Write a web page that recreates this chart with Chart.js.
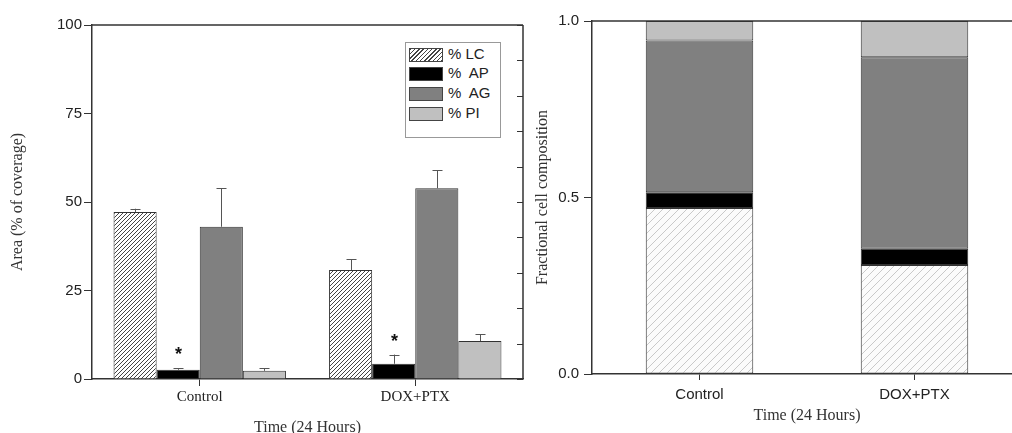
<!DOCTYPE html>
<html>
<head>
<meta charset="utf-8">
<script src="https://cdn.jsdelivr.net/npm/chart.js@4/dist/chart.umd.min.js"></script>
<style>
  html, body { margin: 0; padding: 0; background: #fff; }
  body { width: 1012px; height: 433px; overflow: hidden; position: relative; }
  #areaWrap { position: absolute; left: 0; top: 0; width: 540px; height: 440px; }
  #fracWrap { position: absolute; left: 520px; top: 0; width: 520px; height: 440px; }
  #legend {
    position: absolute; left: 405px; top: 42px; width: 94px; height: 94px;
    border: 1px solid #999; background: #fff;
    font-family: "Liberation Sans", Arial, sans-serif; font-size: 15px; color: #222;
  }
  .row { position: absolute; left: 3px; height: 14px; white-space: pre; }
  .sw { position: absolute; left: 0; top: 0; width: 32px; height: 12px; border: 1px solid #444; }
  .lab { position: absolute; left: 39px; top: -3px; line-height: 18px; }
</style>
</head>
<body>
<div id="areaWrap"><canvas id="areaChart" width="540" height="440"></canvas></div>
<div id="fracWrap"><canvas id="fracChart" width="520" height="440"></canvas></div>
<div id="legend"></div>

<script>
// Données
const categories = ['Control', 'DOX+PTX'];
const seriesNames = ['% LC', '%  AP', '%  AG', '% PI'];

// Graphique de gauche : aire (% de couverture) et barres d'erreur
const areaLC = [47.2, 30.8];
const areaAP = [2.6, 4.3];
const areaAG = [43.0, 53.9];
const areaPI = [2.3, 10.7];
const errLC = [0.9, 3.0];
const errAP = [0.4, 2.6];
const errAG = [10.9, 5.1];
const errPI = [0.7, 2.0];
const starAP = ['*', '*'];

// Graphique de droite : composition fractionnelle
const fracLC = [0.470, 0.309];
const fracAP = [0.045, 0.046];
const fracAG = [0.430, 0.542];
const fracPI = [0.055, 0.103];

// Graduations
const areaTicks = [0, 25, 50, 75, 100];
const areaFrameTicks = [0, 10, 20, 30, 40, 50, 60, 70, 80, 90, 100];
const fracTicks = [0, 0.5, 1.0];

const SANS = '"Liberation Sans", Arial, sans-serif';
const SERIF = '"Liberation Serif", "Times New Roman", serif';

// Motif hachuré
function hatch(color, bg, size, lw) {
    const c = document.createElement('canvas');
    c.width = c.height = size;
    const g = c.getContext('2d');
    g.fillStyle = bg;
    g.fillRect(0, 0, size, size);
    g.strokeStyle = color;
    g.lineWidth = lw;
    g.beginPath();
    g.moveTo(0, size); g.lineTo(size, 0);
    g.moveTo(-1, 1); g.lineTo(1, -1);
    g.moveTo(size - 1, size + 1); g.lineTo(size + 1, size - 1);
    g.stroke();
    return g.createPattern(c, 'repeat');
}

const fills = [hatch('#444', '#fff', 4, 1), '#000000', '#808080', '#c0c0c0'];
const fracFills = [hatch('#bdbdbd', '#fbfbfb', 8, 0.8), '#000000', '#808080', '#c0c0c0'];

// Légende HTML
const legendSwatches = [
    'repeating-linear-gradient(-45deg, #444 0 1px, #fff 1px 3px)',
    '#000', '#808080', '#c0c0c0'
];
const legendRows = [5, 24, 44, 64];
const legend = document.getElementById('legend');
seriesNames.forEach((name, i) => {
    const row = document.createElement('div');
    row.className = 'row';
    row.style.top = legendRows[i] + 'px';
    row.innerHTML = `<div class="sw" style="background:${legendSwatches[i]}"></div><div class="lab">${name}</div>`;
    legend.appendChild(row);
});

// Cadre (haut + droite) avec graduations internes
const framePlugin = {
    id: 'frame',
    afterDraw(chart, args, opts) {
        const { ctx, chartArea } = chart;
        const y = chart.scales.y;
        ctx.save();
        ctx.strokeStyle = '#333';
        ctx.lineWidth = 1.5;
        ctx.beginPath();
        ctx.moveTo(chartArea.left, chartArea.top);
        ctx.lineTo(opts.toEdge ? chart.width : chartArea.right, chartArea.top);
        if (opts.right) {
            ctx.moveTo(chartArea.right, chartArea.top);
            ctx.lineTo(chartArea.right, chartArea.bottom);
        }
        ctx.stroke();
        if (opts.rightTicks) {
            ctx.lineWidth = 1;
            ctx.beginPath();
            opts.rightTicks.forEach(v => {
                const py = Math.round(y.getPixelForValue(v)) + 0.5;
                ctx.moveTo(chartArea.right, py);
                ctx.lineTo(chartArea.right - 6, py);
            });
            ctx.stroke();
        }
        ctx.restore();
    }
};

// Barres d'erreur et astérisques
const errorPlugin = {
    id: 'errorBars',
    afterDatasetsDraw(chart) {
        const { ctx } = chart;
        const y = chart.scales.y;
        ctx.save();
        chart.data.datasets.forEach((ds, i) => {
            const meta = chart.getDatasetMeta(i);
            meta.data.forEach((bar, j) => {
                const top = y.getPixelForValue(ds.data[j] + ds.err[j]);
                const x = Math.round(bar.x) + 0.5;
                ctx.strokeStyle = '#555';
                ctx.lineWidth = 1;
                ctx.beginPath();
                ctx.moveTo(x, bar.y);
                ctx.lineTo(x, top);
                ctx.moveTo(x - 5, Math.round(top) + 0.5);
                ctx.lineTo(x + 5, Math.round(top) + 0.5);
                ctx.stroke();
                if (ds.marks && ds.marks[j]) {
                    ctx.fillStyle = '#111';
                    ctx.font = 'bold 18px ' + SANS;
                    ctx.textAlign = 'center';
                    ctx.textBaseline = 'middle';
                    ctx.fillText(ds.marks[j], x, top - 13);
                }
            });
        });
        ctx.restore();
    }
};

const areaValues = [areaLC, areaAP, areaAG, areaPI];
const areaErrs = [errLC, errAP, errAG, errPI];

new Chart(document.getElementById('areaChart'), {
    type: 'bar',
    data: {
        labels: categories,
        datasets: seriesNames.map((name, i) => ({
            label: name,
            data: areaValues[i],
            err: areaErrs[i],
            marks: i === 1 ? starAP : null,
            backgroundColor: fills[i],
            borderColor: '#333',
            borderWidth: 1,
            categoryPercentage: 0.8,
            barPercentage: 1.0
        }))
    },
    options: {
        responsive: false,
        animation: false,
        layout: { padding: { top: 25, right: 17, left: 0, bottom: 0 } },
        plugins: {
            legend: { display: false },
            tooltip: { enabled: false },
            frame: { right: true, rightTicks: areaFrameTicks }
        },
        scales: {
            x: {
                grid: { display: true, drawOnChartArea: false, drawTicks: true, tickLength: 7, offset: false, color: '#333' },
                border: { display: true, color: '#333', width: 1.5 },
                ticks: { font: { family: SERIF, size: 15 }, color: '#222', padding: 2 },
                title: { display: true, text: 'Time (24 Hours)', font: { family: SERIF, size: 16 }, color: '#333', padding: { top: 0, bottom: 3 } },
                afterFit: s => { s.height = 61; }
            },
            y: {
                min: 0,
                max: 100,
                afterBuildTicks: s => { s.ticks = areaTicks.map(v => ({ value: v })); },
                grid: { drawOnChartArea: false, drawTicks: true, tickLength: 8, color: '#333' },
                border: { display: true, color: '#333', width: 1.5 },
                ticks: { font: { family: SANS, size: 15 }, color: '#222', padding: 2 },
                title: { display: true, text: 'Area (% of coverage)', font: { family: SERIF, size: 16 }, color: '#333', padding: { top: 8, bottom: 0 } },
                afterFit: s => { s.width = 92; }
            }
        }
    },
    plugins: [framePlugin, errorPlugin]
});

const fracValues = [fracLC, fracAP, fracAG, fracPI];

new Chart(document.getElementById('fracChart'), {
    type: 'bar',
    data: {
        labels: categories,
        datasets: seriesNames.map((name, i) => ({
            label: name,
            data: fracValues[i],
            backgroundColor: fracFills[i],
            borderColor: '#333',
            borderWidth: 1,
            borderSkipped: false,
            categoryPercentage: 0.5,
            barPercentage: 1.0
        }))
    },
    options: {
        responsive: false,
        animation: false,
        layout: { padding: { top: 21, right: 18, left: 0, bottom: 0 } },
        plugins: {
            legend: { display: false },
            tooltip: { enabled: false },
            frame: { right: false, toEdge: true }
        },
        scales: {
            x: {
                stacked: true,
                grid: { display: true, drawOnChartArea: false, drawTicks: true, tickLength: 6, offset: false, color: '#333' },
                border: { display: true, color: '#333', width: 1.5 },
                ticks: { font: { family: SANS, size: 15 }, color: '#222', padding: 6 },
                title: { display: true, text: 'Time (24 Hours)', font: { family: SERIF, size: 16 }, color: '#333', padding: { top: 0, bottom: 15 } },
                afterFit: s => { s.height = 66; }
            },
            y: {
                stacked: true,
                min: 0,
                max: 1,
                afterBuildTicks: s => { s.ticks = fracTicks.map(v => ({ value: v })); },
                grid: { drawOnChartArea: false, drawTicks: true, tickLength: 8, color: '#333' },
                border: { display: true, color: '#333', width: 1.5 },
                ticks: { font: { family: SANS, size: 15 }, color: '#222', padding: 5, callback: v => Number(v).toFixed(1) },
                title: { display: true, text: 'Fractional cell composition', font: { family: SERIF, size: 16 }, color: '#333', padding: { top: 13, bottom: 0 } },
                afterFit: s => { s.width = 72; }
            }
        }
    },
    plugins: [framePlugin]
});
</script>
</body>
</html>
